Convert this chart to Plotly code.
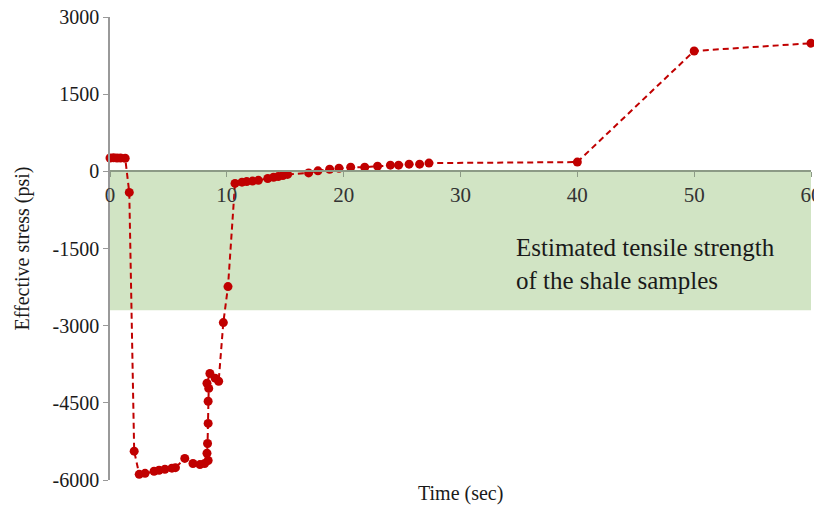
import plotly.graph_objects as go

time_sec = [0, 0.3, 0.6, 0.9, 1.3, 1.65, 2.07, 2.5, 3.0, 3.77, 4.2, 4.7, 5.3, 5.6,
            6.4, 7.1, 7.7, 8.1, 8.4, 8.3, 8.35, 8.4, 8.4, 8.45, 8.3, 8.55, 9.0, 9.3,
            9.7, 10.1, 10.7, 11.3, 11.7, 12.2, 12.7, 13.5, 14.0, 14.4, 14.8, 15.2,
            17.0, 17.8, 18.8, 19.6, 20.6, 21.8, 22.9, 24.0, 24.7, 25.6, 26.5, 27.3,
            40, 50, 60]
stress_psi = [260, 265, 260, 260, 255, -410, -5440, -5890, -5870, -5830, -5810, -5790,
              -5770, -5760, -5580, -5680, -5700, -5680, -5620, -5480, -5290, -4900,
              -4470, -4220, -4120, -3930, -4020, -4080, -2940, -2240, -235, -210, -200,
              -190, -175, -140, -115, -100, -80, -60, -30, 10, 40, 60, 80, 80, 100, 120,
              120, 140, 140, 160, 180, 2340, 2490]

band_top = 0
band_bottom = -2700
band_label = "Estimated tensile strength<br>of the shale samples"
y_ticks = [-6000, -4500, -3000, -1500, 0, 1500, 3000]
y_ticktext = ["-6000", "-4500", "-3000", "-1500", "0", "1500", "3000"]
x_ticks = [0, 10, 20, 30, 40, 50, 60]

FONT = "Liberation Serif"
RED = "#C00000"

fig = go.Figure()
fig.add_shape(type="rect", xref="x", yref="y", x0=0, x1=60, y0=band_bottom, y1=band_top,
              fillcolor="rgb(209,228,196)", line_width=0, layer="below")
fig.add_trace(go.Scatter(
    x=time_sec, y=stress_psi, mode="lines+markers",
    line=dict(color=RED, width=2, dash="6px,4px"),
    marker=dict(color=RED, size=9),
    cliponaxis=False, showlegend=False))

fig.add_annotation(x=34.6, y=-1800, xref="x", yref="y", text=band_label, showarrow=False,
                   xanchor="left", yanchor="middle", align="left",
                   font=dict(family=FONT, size=25, color="#1a1a1a"))
fig.add_annotation(x=0.5, y=0, xref="paper", yref="paper", yshift=-13, text="Time (sec)",
                   showarrow=False, xanchor="center", yanchor="middle",
                   font=dict(family=FONT, size=20, color="#1a1a1a"))
fig.add_annotation(x=0, y=0.5, xref="paper", yref="paper", xshift=-88, text="Effective stress (psi)",
                   textangle=-90, showarrow=False, xanchor="center", yanchor="middle",
                   font=dict(family=FONT, size=20, color="#1a1a1a"))

ymin, ymax = -6000, 3000
fig.update_layout(
    width=814, height=500,
    margin=dict(l=102, r=11, t=9, b=28, autoexpand=False),
    paper_bgcolor="white", plot_bgcolor="white",
    font=dict(family=FONT),
    xaxis=dict(range=[0, 60], tickvals=x_ticks, showgrid=False, zeroline=False,
               showline=True, linecolor="#8c9a86", linewidth=1.5,
               ticks="outside", ticklen=5, tickcolor="#8c9a86", automargin=False,
               anchor="free", position=(0 - ymin) / (ymax - ymin),
               ticklabeloverflow="allow",
               tickfont=dict(family=FONT, size=21, color="#333333")),
    yaxis=dict(range=[ymin, ymax], tickvals=y_ticks, ticktext=y_ticktext,
               showgrid=False, zeroline=False, automargin=False,
               showline=True, linecolor="#999999", linewidth=1.5,
               ticks="outside", ticklen=5, tickcolor="#999999",
               ticklabeloverflow="allow",
               tickfont=dict(family=FONT, size=20, color="#1a1a1a")),
)

fig.write_html("out.html")
